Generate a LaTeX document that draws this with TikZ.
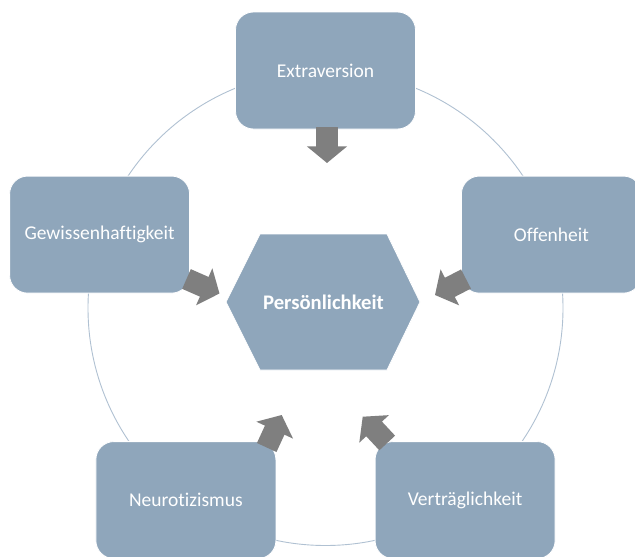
\documentclass[tikz,border=0pt]{standalone}
\usepackage{fontspec}
\setmainfont{Carlito}[Ligatures=NoCommon]
\usetikzlibrary{arrows.meta}
\definecolor{boxfill}{RGB}{143,166,187}
\definecolor{ringcol}{RGB}{176,193,210}
\definecolor{arrowgray}{RGB}{127,127,127}
\tikzset{
  trait/.style={draw=white, line width=0.8pt, fill=boxfill, rounded corners=18pt,
    minimum width=180pt, minimum height=117pt, text=white, inner sep=0pt,
    font=\fontsize{19.5}{23}\selectfont},
  ring/.style={draw=ringcol, line width=0.9pt},
  hexshape/.style={fill=boxfill, draw=white, line width=0.8pt},
  centertext/.style={text=white, font=\fontsize{20.7}{24}\selectfont\bfseries},
  blockarrow/.style={draw=arrowgray, line width=21.5pt,
    -{Triangle[width=39.5pt,length=16.7pt]}}
}
\begin{document}
\begin{tikzpicture}[x=1pt,y=-1pt]
\useasboundingbox (0,0) rectangle (635,557);
\clip (0,0) rectangle (635,557);
\fill[white] (0,0) rectangle (635,557);
% ring
\draw[ring] (325.5,308) circle[radius=237.5pt];
% outer trait boxes
\node[trait] (E) at (325.5,70.5) {Extraversion};
\node[trait] (O) at (551.4,234.6) {Offenheit};
\node[trait] (V) at (465.1,500.1) {Verträglichkeit};
\node[trait] (N) at (185.9,500.1) {Neurotizismus};
\node[trait] (G) at (99.6,234.6) {Gewissenhaftigkeit};
% hexagon
\coordinate (h1) at (226,302);
\coordinate (h2) at (260,234);
\coordinate (h3) at (387,234);
\coordinate (h4) at (420,302);
\coordinate (h5) at (387,370);
\coordinate (h6) at (260,370);
\path[hexshape] (h1) -- (h2) -- (h3) -- (h4) -- (h5) -- (h6) -- cycle;
\node[centertext] (P) at (323.5,302) {Persönlichkeit};
% arrows
\coordinate (eT) at (327,127);   \coordinate (eH) at (327,163);
\coordinate (gT) at (186.5,279); \coordinate (gH) at (219.5,293.5);
\coordinate (oT) at (466,279);   \coordinate (oH) at (435,295);
\coordinate (nT) at (266.7,447.5); \coordinate (nH) at (281.7,415);
\coordinate (vT) at (387.2,443); \coordinate (vH) at (362.7,416.7);
\draw[blockarrow] (eT) -- (eH);
\draw[blockarrow] (gT) -- (gH);
\draw[blockarrow] (oT) -- (oH);
\draw[blockarrow] (nT) -- (nH);
\draw[blockarrow] (vT) -- (vH);
\end{tikzpicture}
\end{document}
